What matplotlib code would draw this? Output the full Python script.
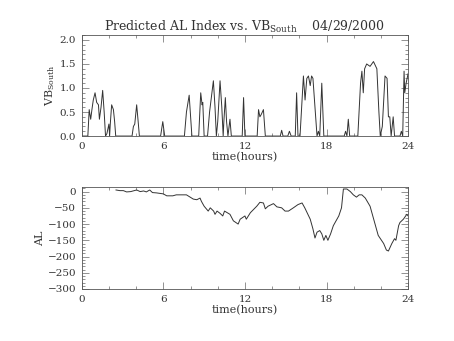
import numpy as np
import matplotlib
matplotlib.use("Agg")
import matplotlib.pyplot as plt
from matplotlib.ticker import MultipleLocator

# VB_South (estimated from the plot)
vb_t = [0.0, 0.45, 0.55, 0.66, 0.75, 0.85, 0.98, 1.1, 1.23, 1.3, 1.42, 1.54, 1.65, 1.75, 1.85,
        2.0, 2.05, 2.1, 2.2, 2.33, 2.42, 2.5, 3.7, 3.8, 3.9, 4.04, 4.15, 4.24, 5.8, 5.96, 6.1,
        7.55, 7.7, 7.9, 8.1, 8.6, 8.75, 8.85, 8.9, 9.0, 9.25, 9.4, 9.68, 9.8, 9.9, 10.0, 10.17,
        10.3, 10.4, 10.45, 10.56, 10.65, 10.75, 10.9, 11.0, 11.8, 11.9, 12.0, 12.9, 13.0, 13.1,
        13.2, 13.36, 13.5, 14.6, 14.7, 14.8, 15.15, 15.27, 15.4, 15.7, 15.8, 15.9, 16.05, 16.3,
        16.42, 16.55, 16.67, 16.8, 16.9, 17.0, 17.15, 17.3, 17.4, 17.5, 17.65, 17.8, 19.3, 19.4,
        19.5, 19.6, 19.7, 20.3, 20.5, 20.6, 20.7, 20.8, 20.95, 21.2, 21.45, 21.7, 21.85, 21.95,
        22.1, 22.3, 22.45, 22.55, 22.65, 22.75, 22.9, 23.0, 23.4, 23.5, 23.6, 23.7, 23.75, 23.85,
        24.0]
vb_v = [0.0, 0.0, 0.55, 0.35, 0.55, 0.75, 0.9, 0.7, 0.65, 0.35, 0.6, 0.95, 0.5, 0.0, 0.05,
        0.25, 0.0, 0.25, 0.65, 0.55, 0.3, 0.0, 0.0, 0.2, 0.25, 0.65, 0.3, 0.0, 0.0, 0.3, 0.0,
        0.0, 0.5, 0.85, 0.0, 0.0, 0.9, 0.65, 0.7, 0.0, 0.0, 0.5, 1.15, 0.6, 0.0, 0.3, 1.15,
        0.6, 0.0, 0.3, 0.8, 0.3, 0.0, 0.35, 0.0, 0.0, 0.8, 0.0, 0.0, 0.55, 0.4, 0.45, 0.55,
        0.0, 0.0, 0.12, 0.0, 0.0, 0.1, 0.0, 0.0, 0.9, 0.0, 0.0, 1.25, 0.75, 1.2, 1.25, 1.05,
        1.25, 1.2, 0.6, 0.0, 0.1, 0.0, 1.1, 0.0, 0.0, 0.1, 0.0, 0.35, 0.0, 0.0, 1.1, 1.35,
        0.9, 1.4, 1.5, 1.45, 1.55, 1.4, 0.5, 0.0, 0.2, 1.25, 1.2, 0.4, 0.4, 0.0, 0.4, 0.0,
        0.0, 0.1, 0.0, 1.35, 0.9, 1.1, 1.3]

# AL index (estimated from the plot)
al_t = [2.52, 2.8, 3.06, 3.3, 3.6, 4.04, 4.3, 4.55, 4.75, 5.0, 5.2, 5.5, 6.0, 6.25, 6.7,
        6.95, 7.35, 7.7, 7.97, 8.2, 8.46, 8.7, 8.8, 9.0, 9.2, 9.3, 9.45, 9.7, 9.8, 9.95,
        10.17, 10.37, 10.5, 10.7, 10.9, 11.15, 11.5, 11.65, 12.0, 12.1, 12.4, 12.87, 13.1, 13.36,
        13.5, 13.7, 14.1, 14.35, 14.7, 14.95, 15.2, 15.56, 15.9, 16.2, 16.4, 16.8, 17.0, 17.15,
        17.3, 17.5, 17.65, 17.8, 17.95, 18.1, 18.3, 18.5, 18.9, 19.1, 19.24, 19.5, 19.75, 19.97,
        20.2, 20.4, 20.6, 20.85, 21.2, 21.4, 21.8, 22.2, 22.4, 22.55, 22.8, 23.0, 23.1, 23.3,
        23.4, 23.65, 23.9, 24.0]
al_v = [5, 3, 3, -1, 0, 5, 0, 2, -1, 5, -3, -4, -7, -13, -13, -10, -10, -10, -17, -23,
        -25, -20, -30, -45, -55, -60, -50, -60, -70, -60, -67, -75, -60, -65, -70, -90, -100,
        -85, -75, -85, -65, -45, -33, -35, -53, -45, -37, -47, -50, -60, -60, -50, -40, -35,
        -50, -85, -115, -143, -125, -120, -130, -150, -135, -150, -130, -105, -75, -50, 8, 8,
        0, -10, -17, -10, -10, -20, -45, -75, -135, -160, -180, -183, -160, -145, -150, -105,
        -95, -85, -70, -75]

hours = [0, 6, 12, 18, 24]

plt.rcParams['font.family'] = 'DejaVu Serif'
plt.rcParams['mathtext.fontset'] = 'dejavuserif'
plt.rcParams['text.color'] = '#333333'
plt.rcParams['xtick.labelcolor'] = '#333333'
plt.rcParams['ytick.labelcolor'] = '#333333'
plt.rcParams['axes.labelcolor'] = '#333333'


def style_axis(ax, ymajor, yminor):
    ax.set_xlim(0, 24)
    ax.set_xticks(hours)
    ax.xaxis.set_minor_locator(MultipleLocator(2))
    ax.yaxis.set_major_locator(MultipleLocator(ymajor))
    ax.yaxis.set_minor_locator(MultipleLocator(yminor))
    ax.tick_params(which='both', direction='in', top=True, right=True,
                   labelsize=7.5, width=0.5, color='#666666', pad=4)
    ax.tick_params(which='major', length=5)
    ax.tick_params(which='minor', length=2.5)
    for s in ax.spines.values():
        s.set_linewidth(0.6)
        s.set_color('#555555')
    ax.set_xlabel('time(hours)', fontsize=8, labelpad=1)


fig = plt.figure(figsize=(4.54, 3.41), dpi=100)

ax1 = fig.add_axes([0.18, 0.601, 0.719, 0.296])
ax1.plot(vb_t, vb_v, color='#333333', lw=0.7)
ax1.set_ylim(0, 2.1)
style_axis(ax1, 0.5, 0.1)
ax1.set_yticks([0.0, 0.5, 1.0, 1.5, 2.0])
ax1.set_yticklabels(['0.0', '0.5', '1.0', '1.5', '2.0'])
ax1.set_ylabel(r'VB$_{\rm South}$', fontsize=8, labelpad=2)
ax1.set_title(r'Predicted AL Index vs. VB$_{\rm South}$    04/29/2000', fontsize=9, pad=3)

ax2 = fig.add_axes([0.18, 0.1525, 0.719, 0.298])
ax2.plot(al_t, al_v, color='#333333', lw=0.7)
ax2.set_ylim(-300, 13)
style_axis(ax2, 50, 10)
ax2.set_yticks([0, -50, -100, -150, -200, -250, -300])
ax2.set_ylabel('AL', fontsize=8, labelpad=2)

fig.savefig('out.png', dpi=100)
